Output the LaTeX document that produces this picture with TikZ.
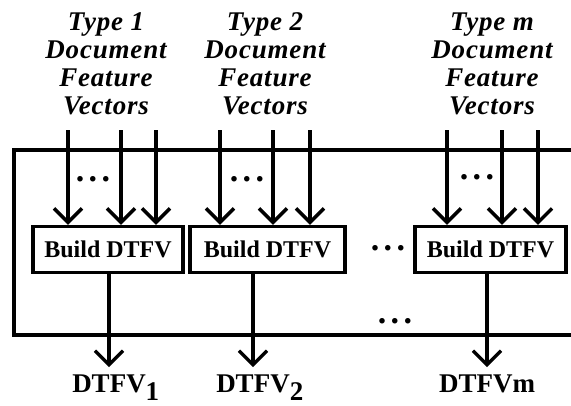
\documentclass[tikz,border=0pt]{standalone}
\usepackage{fontspec}
\setmainfont{Liberation Serif}
\usetikzlibrary{arrows.meta}

\begin{document}
\begin{tikzpicture}[x=1pt,y=-1pt,
  wire/.style={line width=3.4pt},
  feed/.style={line width=3.4pt,-{Straight Barb[length=14pt,width=28pt]}},
  builder/.style={draw,line width=3.4pt,minimum width=150pt,minimum height=46pt,
    inner sep=0pt,font=\fontsize{24}{28}\selectfont\bfseries},
  source/.style={align=center,
    font=\fontsize{27}{28}\selectfont\bfseries\itshape\addfontfeatures{LetterSpace=3}},
  sink/.style={inner sep=7pt,font=\fontsize{27}{30}\selectfont\bfseries},
  gap/.style={inner sep=0pt,font=\fontsize{34}{34}\selectfont\bfseries}]
\useasboundingbox (0,0) rectangle (571,405);
% outer frame, open to the right
\draw[wire] (571,150) -- (14,150) -- (14,335) -- (571,335);
% the builders
\node[builder] (b1) at (108,249.5) {Build DTFV};
\node[builder, minimum width=155pt] (b2) at (267.5,249.5) {Build DTFV};
\node[builder, minimum width=151pt] (bm) at (490.5,249.5) {Build DTFV};
% inputs
\node[source, anchor=north] (s1) at (106,9) {Type 1\\Document\\Feature\\Vectors};
\node[source, anchor=north] (s2) at (265,9) {Type 2\\Document\\Feature\\Vectors};
\node[source, anchor=north] (sm) at (492,9) {Type m\\Document\\Feature\\Vectors};
\foreach \x [count=\i] in {68,121,156} {
  \coordinate (a\i) at (\x,130);
  \draw[feed] (a\i) -- (a\i |- b1.north);
}
\foreach \x [count=\i] in {220,273,310} {
  \coordinate (c\i) at (\x,130);
  \draw[feed] (c\i) -- (c\i |- b2.north);
}
\foreach \x [count=\i] in {447,502,538} {
  \coordinate (e\i) at (\x,130);
  \draw[feed] (e\i) -- (e\i |- bm.north);
}
\node[gap] (d1) at (93,179) {.\hspace{4.5pt}.\hspace{4.5pt}.};
\node[gap] (d2) at (247,179) {.\hspace{4.5pt}.\hspace{4.5pt}.};
\node[gap] (dm) at (477,177) {.\hspace{4.5pt}.\hspace{4.5pt}.};
\node[gap] (dmid) at (388,248) {.\hspace{4.5pt}.\hspace{4.5pt}.};
\node[gap] (dout) at (395,321) {.\hspace{4.5pt}.\hspace{4.5pt}.};
% outputs
\node[sink, anchor=base] (o1) at (109,392) {DTFV\rlap{\raisebox{-8pt}{1}}};
\node[sink, anchor=base] (o2) at (253,392) {DTFV\rlap{\raisebox{-8pt}{2}}};
\node[sink, anchor=base] (om) at (487,392) {DTFVm};
\draw[feed] (o1 |- b1.south) -- (o1.north);
\draw[feed] (o2 |- b2.south) -- (o2.north);
\draw[feed] (om |- bm.south) -- (om.north);
\end{tikzpicture}
\end{document}
